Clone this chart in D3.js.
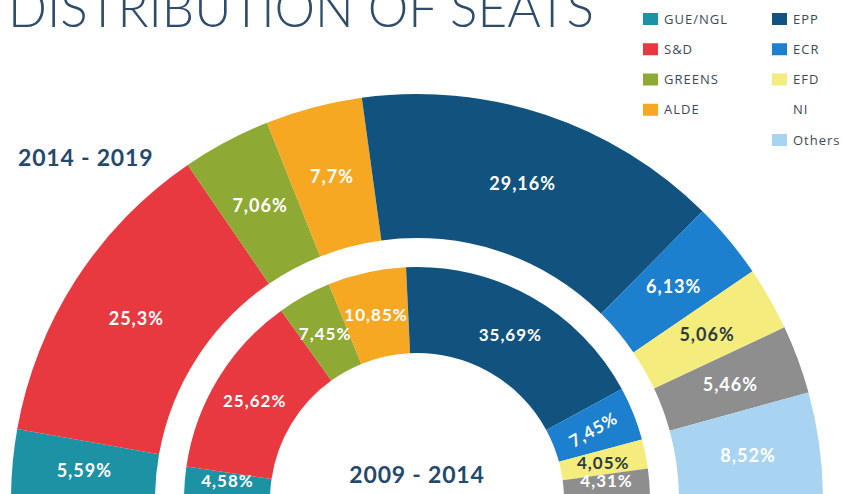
<!DOCTYPE html>
<html>
<head>
<meta charset="utf-8">
<script src="https://cdn.jsdelivr.net/npm/d3@7"></script>
<style>
  html, body { margin: 0; padding: 0; background: #fff; overflow: hidden; }
  svg { display: block; }
</style>
</head>
<body>
<div id="chart"></div>
<script>
// Data
const parties = ['GUE/NGL', 'S&D', 'GREENS', 'ALDE', 'EPP', 'ECR', 'EFD', 'NI', 'Others'];
const seats2014 = [5.59, 25.3, 7.06, 7.7, 29.16, 6.13, 5.06, 5.46, 8.52];
const seats2009 = [4.58, 25.62, 7.45, 10.85, 35.69, 7.45, 4.05, 4.31, 0];
const legendLeft = ['GUE/NGL', 'S&D', 'GREENS', 'ALDE'];
const legendRight = ['EPP', 'ECR', 'EFD', 'NI', 'Others'];
const partyColors = ['#1d92a4', '#e7393f', '#8faa34', '#f6a823', '#12527f', '#1c80cf', '#f5ec7e', '#8e8e8e', '#a8d4f1'];

const width = 843;
const height = 494;
const center = { x: 417, y: 500 };

const svg = d3.select('#chart')
    .append('svg')
    .attr('width', width)
    .attr('height', height);

const color = d3.scaleOrdinal().domain(parties).range(partyColors);
// NI has no visible swatch in the legend
const legendColor = (p) => p === 'NI' ? '#ffffff' : color(p);

const fmt = (v) => String(v).replace('.', ',') + '%';

const pie = d3.pie()
    .sort(null)
    .value((d) => d.value)
    .startAngle(-Math.PI / 2)
    .endAngle(Math.PI / 2);

function drawRing(values, inner, outer, fontSize) {
    const rows = parties.map((p, i) => ({ party: p, value: values[i] }));
    const arc = d3.arc().innerRadius(inner).outerRadius(outer);
    const g = svg.append('g').attr('transform', `translate(${center.x},${center.y})`);

    const slices = pie(rows).filter((d) => d.data.value > 0);

    g.selectAll('path')
        .data(slices)
        .join('path')
        .attr('d', arc)
        .attr('fill', (d) => color(d.data.party));

    // keep labels of the bottom slices inside the picture
    const maxY = height - center.y - 13;

    g.selectAll('text')
        .data(slices)
        .join('text')
        .attr('transform', (d) => {
            let [x, y] = arc.centroid(d);
            y = Math.min(y, maxY);
            // the small ECR label on the inner ring is tilted in the original
            const rot = (inner < 200 && d.data.party === 'ECR') ? -30 : 0;
            return `translate(${x},${y}) rotate(${rot})`;
        })
        .attr('text-anchor', 'middle')
        .attr('dy', '0.36em')
        .attr('font-family', 'Lato, "DejaVu Sans", sans-serif')
        .attr('font-weight', 'bold')
        .attr('font-size', fontSize)
        .attr('letter-spacing', 1)
        .attr('fill', (d) => d.data.party === 'EFD' ? '#2c3b3d' : '#ffffff')
        .text((d) => fmt(d.data.value));
}

drawRing(seats2014, 262, 406, 18);
drawRing(seats2009, 147, 233, 17);

// Title (cut off at the top in the source)
svg.append('text')
    .attr('x', 8)
    .attr('y', 27)
    .attr('font-family', 'Lato, "Open Sans", sans-serif')
    .attr('font-weight', 300)
    .attr('font-size', 54)
    .attr('textLength', 586)
    .attr('lengthAdjust', 'spacingAndGlyphs')
    .attr('fill', '#2f4c6b')
    .text('DISTRIBUTION OF SEATS');

// Period labels
svg.append('text')
    .attr('x', 18)
    .attr('y', 166)
    .attr('font-family', 'Lato, "DejaVu Sans", sans-serif')
    .attr('font-weight', 'bold')
    .attr('font-size', 23)
    .attr('letter-spacing', 0.8)
    .attr('fill', '#24496e')
    .text('2014 - 2019');

svg.append('text')
    .attr('x', center.x)
    .attr('y', 483)
    .attr('text-anchor', 'middle')
    .attr('font-family', 'Lato, "DejaVu Sans", sans-serif')
    .attr('font-weight', 'bold')
    .attr('font-size', 23)
    .attr('letter-spacing', 0.8)
    .attr('fill', '#24496e')
    .text('2009 - 2014');

// Legend
function drawLegend(items, x) {
    const rowY = d3.scaleLinear().domain([0, 4]).range([19, 140]);
    const g = svg.append('g').attr('class', 'legend');
    const item = g.selectAll('g')
        .data(items)
        .join('g')
        .attr('transform', (d, i) => `translate(${x},${rowY(i)})`);

    item.append('rect')
        .attr('x', 0)
        .attr('y', -6)
        .attr('width', 15)
        .attr('height', 12)
        .attr('fill', (d) => legendColor(d));

    item.append('text')
        .attr('x', 21)
        .attr('dy', '0.35em')
        .attr('font-family', '"Open Sans", sans-serif')
        .attr('font-size', 13)
        .attr('letter-spacing', 1)
        .attr('fill', '#3c4a58')
        .text((d) => d);
}

drawLegend(legendLeft, 643);
drawLegend(legendRight, 772);
</script>
</body>
</html>
